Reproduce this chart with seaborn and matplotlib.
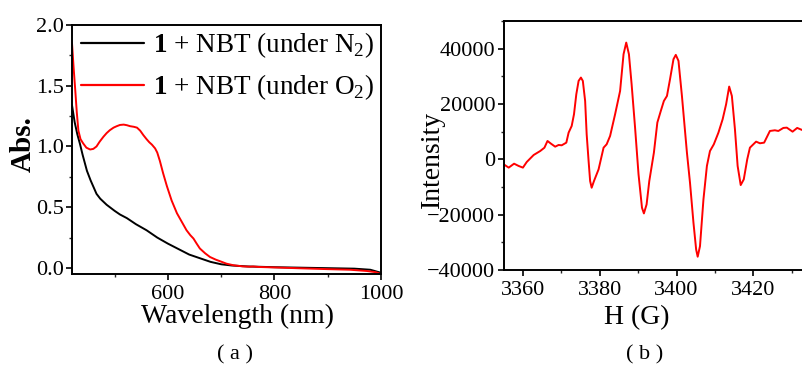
import numpy as np
import pandas as pd
import seaborn as sns
import matplotlib
matplotlib.use("Agg")
import matplotlib.pyplot as plt
from matplotlib.ticker import MultipleLocator

# UV-vis: 1 + NBT under N2 / O2
wl_n2 = [420, 425, 430, 435, 440, 448, 455, 460, 466, 473, 485, 500, 510, 523, 540,
         560, 580, 600, 620, 640, 660, 680, 700, 720, 750, 800, 850, 900, 950, 980, 1000]
abs_n2 = [1.34, 1.20, 1.10, 1.02, 0.93, 0.80, 0.72, 0.67, 0.61, 0.57, 0.52, 0.47, 0.44, 0.41, 0.36,
          0.31, 0.25, 0.20, 0.155, 0.11, 0.08, 0.05, 0.03, 0.02, 0.012, 0.006, 0.002, -0.002, -0.006, -0.015, -0.04]

wl_o2 = [420, 423, 426, 429, 432, 436, 441, 447, 454, 460, 466, 472, 479, 485, 491, 498, 504, 510,
         517, 523, 529, 536, 542, 548, 554, 560, 565, 570, 576, 580, 585, 591, 598, 607, 617, 626,
         635, 642, 648, 654, 660, 670, 679, 690, 698, 710, 723, 740, 754, 760, 770, 800, 848, 900,
         942, 973, 990, 1000]
abs_o2 = [1.85, 1.65, 1.47, 1.28, 1.13, 1.06, 1.025, 0.99, 0.975, 0.98, 1.0, 1.04, 1.08, 1.11, 1.134,
          1.155, 1.167, 1.177, 1.18, 1.175, 1.167, 1.162, 1.155, 1.13, 1.093, 1.06, 1.035, 1.015, 0.984,
          0.95, 0.88, 0.78, 0.675, 0.555, 0.45, 0.38, 0.31, 0.27, 0.242, 0.20, 0.16, 0.12, 0.09, 0.068,
          0.055, 0.035, 0.022, 0.013, 0.010, 0.012, 0.008, 0.004, -0.003, -0.010, -0.015, -0.025, -0.035, -0.05]

# EPR spectrum
field = [3355.0, 3356.3, 3357.7, 3358.9, 3360.0, 3361.0, 3362.8, 3364.5, 3365.6, 3366.4, 3367.3,
         3368.4, 3369.3, 3370.1, 3371.3, 3371.9, 3372.7, 3373.3, 3373.9, 3374.5, 3375.1, 3375.6,
         3376.2, 3376.6, 3377.1, 3377.5, 3377.9, 3378.5, 3379.7, 3381.0, 3381.8, 3382.7, 3384.0,
         3385.3, 3386.2, 3386.9, 3387.6, 3388.3, 3389.2, 3390.1, 3391.0, 3391.5, 3392.2, 3392.9,
         3394.1, 3395.0, 3395.9, 3396.7, 3397.5, 3398.3, 3399.2, 3399.8, 3400.5, 3401.4, 3402.7,
         3403.5, 3404.4, 3405.1, 3405.5, 3406.1, 3407.0, 3407.9, 3408.7, 3409.7, 3410.9, 3412.0,
         3412.9, 3413.7, 3414.4, 3415.2, 3415.9, 3416.7, 3417.5, 3418.4, 3419.1, 3420.7, 3421.7,
         3422.8, 3424.3, 3425.6, 3426.5, 3427.8, 3428.7, 3430.2, 3431.4, 3432.7]
intensity = [-1800, -3000, -1570, -2400, -3000, -960, 1570, 3000, 4200, 6640, 5670,
             4580, 5190, 5070, 6030, 9650, 12060, 16300, 23500, 28350, 29560, 28350,
             21100, 9050, -600, -7850, -10260, -7850, -3620, 4220, 5430, 8450, 16300,
             24700, 38000, 42200, 38000, 27150, 11460, -5430, -17500, -19550, -16300, -7850,
             2410, 13300, 17500, 21100, 22900, 28960, 36200, 37760, 35600, 22900, 2410,
             -8450, -22900, -32600, -35200, -31400, -14500, -2400, 3000, 5430, 9650, 14500,
             19900, 26300, 22900, 10860, -2400, -9300, -7240, 0, 4220, 6400, 5800,
             6030, 10250, 10500, 10250, 11350, 11460, 10000, 11350, 10600]

uv = pd.concat([
    pd.DataFrame({"wl": wl_n2, "abs": abs_n2, "cond": r"$\mathbf{1}$ + NBT (under N$_2$)"}),
    pd.DataFrame({"wl": wl_o2, "abs": abs_o2, "cond": r"$\mathbf{1}$ + NBT (under O$_2$)"}),
])
epr = pd.DataFrame({"H": field, "I": intensity})

sns.set_theme(style="ticks")
plt.rcParams["font.family"] = ["Liberation Serif", "DejaVu Serif"]
plt.rcParams["mathtext.fontset"] = "custom"
plt.rcParams["mathtext.rm"] = "Liberation Serif"
plt.rcParams["mathtext.bf"] = "Liberation Serif:bold"
plt.rcParams["text.color"] = "black"
plt.rcParams["axes.labelcolor"] = "black"

fig = plt.figure(figsize=(8.02, 3.70), dpi=100)
W, H = 802, 370
ax1 = fig.add_axes([72 / W, 1 - 274 / H, 309 / W, 249 / H])
ax2 = fig.add_axes([503.7 / W, 1 - 270 / H, 307.3 / W, 249 / H])

# (a) UV-vis
sns.lineplot(data=uv, x="wl", y="abs", hue="cond", palette=["black", "#ff0000"],
             lw=1.4, ax=ax1, sort=False)
ax1.set_xlim(420, 1000)
ax1.set_ylim(-0.05, 2.0)
ax1.xaxis.set_major_locator(MultipleLocator(200))
ax1.xaxis.set_minor_locator(MultipleLocator(100))
ax1.yaxis.set_major_locator(MultipleLocator(0.5))
ax1.yaxis.set_minor_locator(MultipleLocator(0.25))
ax1.set_xticks([600, 800, 1000])
ax1.set_xlabel("Wavelength (nm)", fontsize=20)
ax1.set_ylabel("Abs.", fontsize=21, fontweight="bold")
ax1.xaxis.set_label_coords(0.534, -0.12)
ax1.yaxis.set_label_coords(-0.115, 0.52)
leg = ax1.legend(loc="upper left", bbox_to_anchor=(0.013, 1.0), frameon=False,
                 fontsize=19.5, handlelength=2.3, handletextpad=0.35, labelspacing=0.45,
                 borderaxespad=0.0, borderpad=0.2)
for ln in leg.get_lines():
    ln.set_linewidth(1.6)

# (b) EPR
sns.lineplot(data=epr, x="H", y="I", color="#ff0000", lw=1.4, ax=ax2, sort=False)
ax2.set_xlim(3355, 3435)
ax2.set_ylim(-40000, 50000)
ax2.xaxis.set_major_locator(MultipleLocator(20))
ax2.xaxis.set_minor_locator(MultipleLocator(10))
ax2.yaxis.set_major_locator(MultipleLocator(20000))
ax2.yaxis.set_minor_locator(MultipleLocator(10000))
ax2.set_yticks([-40000, -20000, 0, 20000, 40000])
ax2.set_xlabel("H (G)", fontsize=20)
ax2.set_ylabel("Intensity", fontsize=20)
ax2.xaxis.set_label_coords(0.434, -0.14)
ax2.yaxis.set_label_coords(-0.19, 0.446)

for ax in (ax1, ax2):
    for s in ax.spines.values():
        s.set_visible(True)
        s.set_linewidth(1.4)
        s.set_color("black")
    ax.tick_params(which="major", direction="out", length=4, width=1.2, labelsize=16,
                   pad=2, colors="black", top=False, right=False)
    ax.tick_params(axis="x", which="major", pad=4)
    ax.tick_params(which="minor", direction="out", length=2.5, width=1.0, top=False, right=False)

fig.text(235 / W, 1 - 355 / H, "( a )", ha="center", va="center", fontsize=16)
fig.text(645 / W, 1 - 355 / H, "( b )", ha="center", va="center", fontsize=16)

fig.savefig("out.png", dpi=100)
